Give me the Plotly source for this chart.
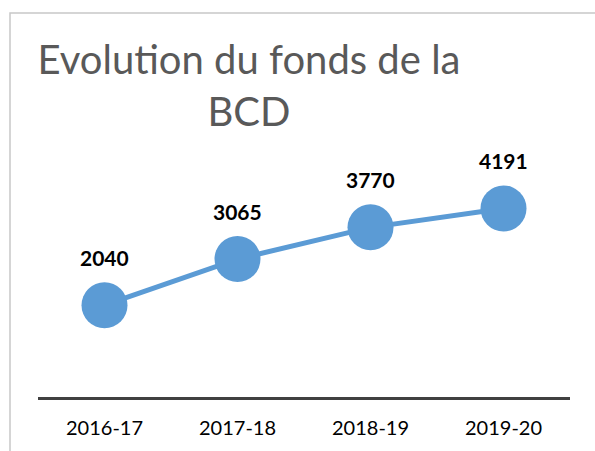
import plotly.graph_objects as go

categories = ["2016-17", "2017-18", "2018-19", "2019-20"]
values = [2040, 3065, 3770, 4191]
title_text = "Evolution du fonds de la<br>BCD"

W, H = 595, 451
ML, MR, MT, MB = 38, 25, 172, 54

fig = go.Figure()
fig.add_trace(go.Scatter(
    x=categories, y=values, mode="lines+markers",
    line=dict(color="#5B9BD5", width=5),
    marker=dict(color="#5B9BD5", size=46),
    cliponaxis=False, hoverinfo="skip",
))
for c, v in zip(categories, values):
    fig.add_annotation(x=c, y=v, text=f"<b>{v}</b>", showarrow=False,
                       yshift=48, font=dict(family="Lato", size=21, color="#000000"))

# chart border (decorative)
pw, ph = W - ML - MR, H - MT - MB
fig.add_shape(type="rect", xref="paper", yref="paper",
              x0=(10 - ML) / pw, x1=(W + 20 - ML) / pw,
              y0=-(H + 20 - (H - MB)) / ph, y1=((H - MB) - 13) / ph,
              line=dict(color="#C8C8C8", width=1.5), fillcolor="rgba(0,0,0,0)", layer="below")

fig.update_layout(
    width=W, height=H, margin=dict(l=ML, r=MR, t=MT, b=MB),
    paper_bgcolor="white", plot_bgcolor="white", showlegend=False,
    title=dict(text=title_text, x=249 / W, xanchor="center", xref="container",
               y=1 - 74 / H, yanchor="top", yref="container",
               font=dict(family="Lato", size=40, color="#595959")),
    xaxis=dict(range=[-0.5, 3.5], showgrid=False, zeroline=False, showline=True,
               linecolor="#404040", linewidth=3, ticks="", ticklabelstandoff=11,
               tickfont=dict(family="Lato", size=20, color="#000000")),
    yaxis=dict(range=[0, 5000], visible=False),
)
fig.write_html("out.html", config={"displayModeBar": False},
               post_script="document.body.style.margin='0';")
